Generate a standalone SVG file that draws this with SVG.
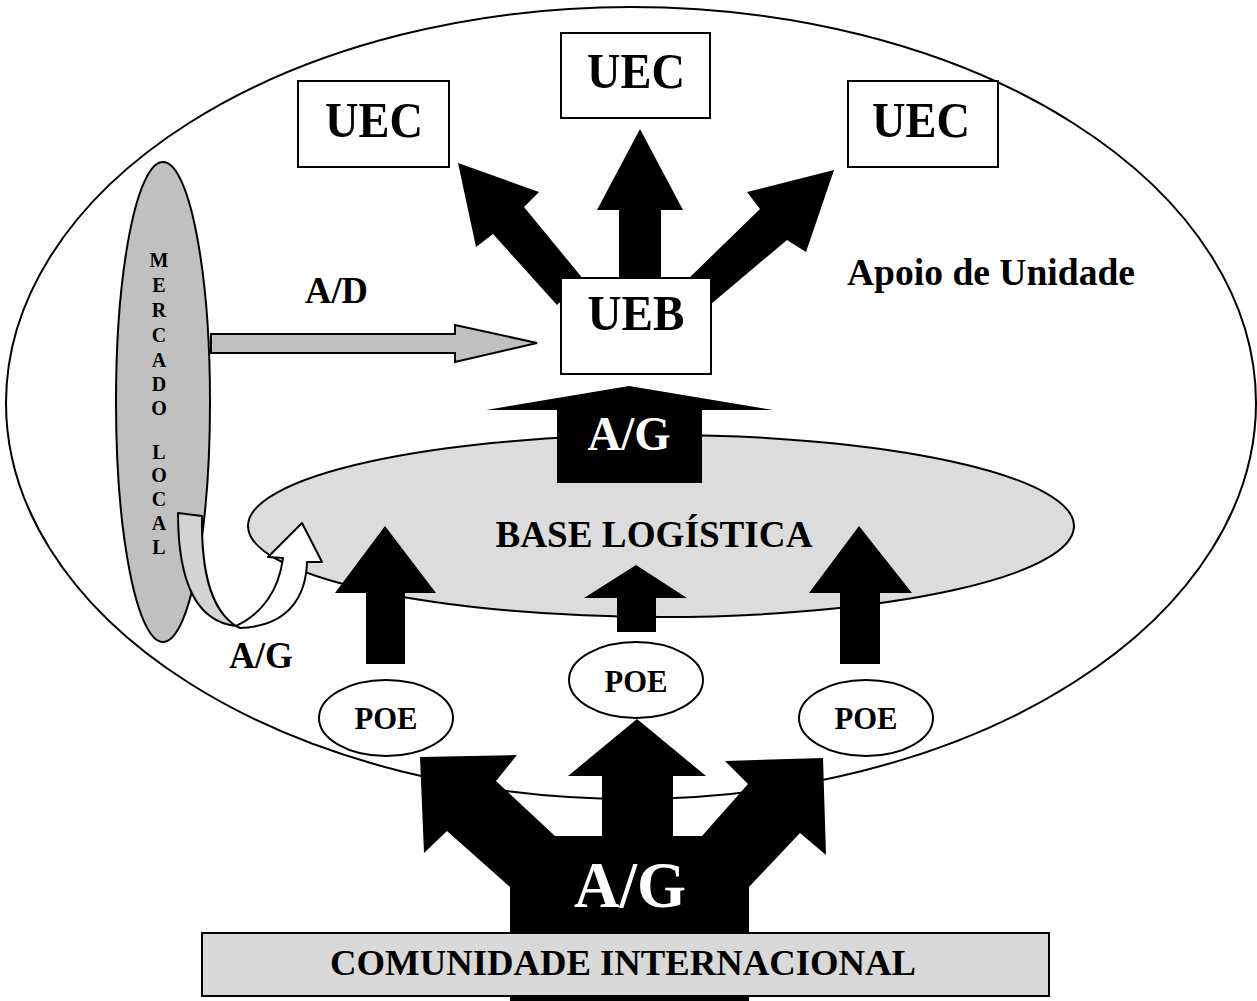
<svg xmlns="http://www.w3.org/2000/svg" width="1257" height="1001" viewBox="0 0 1257 1001">
<style>
text{font-family:"Liberation Serif","Times New Roman",serif;font-weight:bold;fill:#000}
.ln{stroke:#000;stroke-width:2}
.box{fill:#fff;stroke:#000;stroke-width:2}
.blk{fill:#000;stroke:none}
.wt{fill:#fff}
.mid{text-anchor:middle}
</style>
<rect x="0" y="0" width="1257" height="1001" fill="#fff"/>
<g id="apoio-unidade">
<ellipse cx="631" cy="403" rx="625" ry="396" fill="none" class="ln"/>
<text x="847" y="285" font-size="38" textLength="288" lengthAdjust="spacingAndGlyphs">Apoio de Unidade</text>
</g>
<g id="uec-left"><rect x="298" y="81" width="151" height="86" class="box"/><text x="374" y="137" font-size="50" class="mid" textLength="98" lengthAdjust="spacingAndGlyphs">UEC</text></g>
<g id="uec-top"><rect x="561" y="33" width="149" height="85" class="box"/><text x="636" y="88" font-size="50" class="mid" textLength="98" lengthAdjust="spacingAndGlyphs">UEC</text></g>
<g id="uec-right"><rect x="848" y="81" width="150" height="86" class="box"/><text x="921" y="137" font-size="50" class="mid" textLength="98" lengthAdjust="spacingAndGlyphs">UEC</text></g>
<g id="base-logistica">
<ellipse cx="661" cy="526" rx="413" ry="91" fill="#dcdcdc" class="ln"/>
<text x="654" y="547" font-size="38" class="mid" textLength="317" lengthAdjust="spacingAndGlyphs">BASE LOGÍSTICA</text>
</g>
<g id="connectors">
<polygon class="blk" points="584,280 524,207 539,192 458,163 476,247 493,234 557,305"/>
<polygon class="blk" points="619,280 619,210 597,210 640,129 683,210 661,210 661,280"/>
<polygon class="blk" points="687,280 760,209 747,192 834,170 806,252 787,240 711,304"/>
<polygon class="blk" points="557,483 557,410 486,410 629,386 773,410 702,410 702,483"/>
<text x="629" y="450" font-size="48" class="mid wt" textLength="83" lengthAdjust="spacingAndGlyphs">A/G</text>
<polygon class="blk" points="366,664 366,593 335,593 385,526 436,593 405,593 405,664"/>
<polygon class="blk" points="617,632 617,598 584,598 636,565 687,598 656,598 656,632"/>
<polygon class="blk" points="840,664 840,593 809,593 859,526 912,593 880,593 880,664"/>
<polygon class="blk" points="510,1001 510,887 447,831 424,853 420,757 517,755 496,781 555,836 602,836 602,776 568,776 637,719 706,776 673,776 673,836 702,836 748,784 725,761 823,758 826,855 800,833 749,887 749,1001"/>
<text x="630" y="907" font-size="65" class="mid wt" textLength="112" lengthAdjust="spacingAndGlyphs">A/G</text>
<polygon points="211,334 455,334 455,325 537,343 455,362 455,353 211,353" fill="#c0c0c0" class="ln"/>
<text x="305" y="303" font-size="37" textLength="63" lengthAdjust="spacingAndGlyphs">A/D</text>
</g>
<g id="mercado-local">
<ellipse cx="163" cy="402" rx="47" ry="240" fill="#c0c0c0" class="ln"/>
<g font-size="20" text-anchor="middle">
<text x="159" y="267">M</text><text x="159" y="292">E</text><text x="159" y="317">R</text><text x="159" y="342">C</text><text x="159" y="367">A</text><text x="159" y="391">D</text><text x="159" y="415">O</text>
<text x="159" y="459">L</text><text x="159" y="482">O</text><text x="159" y="506">C</text><text x="159" y="530">A</text><text x="159" y="554">L</text>
</g>
</g>
<g id="curved-arrow">
<path d="M178,513 L202,516 C201,580 214,612 236,626 C200,622 178,590 178,513 Z" fill="#d4d4d4" class="ln" stroke-linejoin="round"/>
<path d="M236,626 C262,614 279,590 283,558 L268,557 L302,523 L322,562 L307,562 C306,595 290,626 240,628 Z" fill="#fff" class="ln" stroke-linejoin="round"/>
<text x="229" y="668" font-size="37" textLength="64" lengthAdjust="spacingAndGlyphs">A/G</text>
</g>
<g id="ueb"><rect x="561" y="278" width="150" height="96" class="box"/><text x="636" y="330" font-size="50" class="mid" textLength="97" lengthAdjust="spacingAndGlyphs">UEB</text></g>
<g id="poe-left"><ellipse cx="386" cy="718" rx="67" ry="38" class="box"/><text x="386" y="729" font-size="32" class="mid" textLength="63" lengthAdjust="spacingAndGlyphs">POE</text></g>
<g id="poe-mid"><ellipse cx="636" cy="680" rx="67" ry="38" class="box"/><text x="636" y="692" font-size="32" class="mid" textLength="63" lengthAdjust="spacingAndGlyphs">POE</text></g>
<g id="poe-right"><ellipse cx="866" cy="718" rx="67" ry="38" class="box"/><text x="866" y="729" font-size="32" class="mid" textLength="63" lengthAdjust="spacingAndGlyphs">POE</text></g>
<g id="comunidade-internacional">
<rect x="202" y="933" width="847" height="63" fill="#d9d9d9" class="ln"/>
<text x="623" y="975" font-size="36" class="mid" textLength="586" lengthAdjust="spacingAndGlyphs">COMUNIDADE INTERNACIONAL</text>
</g>
</svg>
